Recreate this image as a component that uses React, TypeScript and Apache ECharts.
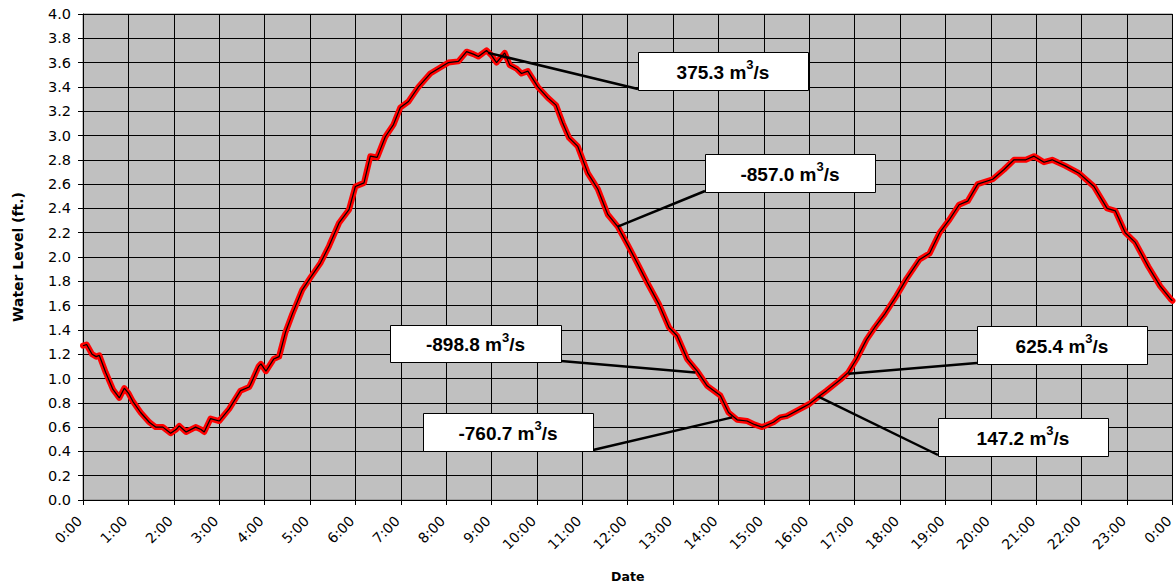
import React, { useEffect, useRef } from 'react';
import * as echarts from 'echarts';

// Time of reading, in hours after midnight
const hours = [
  0.0, 0.08, 0.2, 0.29, 0.36, 0.5, 0.66, 0.8, 0.91, 1.0, 1.1, 1.27, 1.46, 1.6, 1.76, 1.93,
  2.05, 2.12, 2.27, 2.48, 2.6, 2.67, 2.81, 3.0, 3.22, 3.47, 3.66, 3.69, 3.87, 3.92, 4.03,
  4.2, 4.32, 4.46, 4.61, 4.83, 5.01, 5.23, 5.42, 5.64, 5.86, 6.0, 6.19, 6.33, 6.48, 6.66,
  6.84, 6.99, 7.17, 7.39, 7.65, 7.87, 8.05, 8.27, 8.45, 8.6, 8.71, 8.89, 9.0, 9.11, 9.29,
  9.4, 9.55, 9.66, 9.8, 10.02, 10.24, 10.42, 10.57, 10.71, 10.9, 11.12, 11.34, 11.56,
  11.78, 12.0, 12.21, 12.43, 12.69, 12.91, 13.09, 13.31, 13.53, 13.75, 14.04, 14.22,
  14.41, 14.63, 14.8, 14.96, 15.21, 15.36, 15.5, 15.8, 16.0, 16.2, 16.38, 16.68, 16.86,
  17.04, 17.26, 17.44, 17.66, 17.92, 18.14, 18.43, 18.65, 18.87, 19.09, 19.3, 19.49,
  19.71, 20.04, 20.29, 20.51, 20.77, 20.95, 21.17, 21.35, 21.64, 21.94, 22.27, 22.56,
  22.74, 22.96, 23.18, 23.47, 23.73, 23.97, 24.0,
];

// Water level (ft.) at each reading
const levels = [
  1.27, 1.28, 1.2, 1.18, 1.19, 1.05, 0.91, 0.84, 0.92, 0.88, 0.81, 0.72, 0.64, 0.6, 0.6, 0.55,
  0.58, 0.61, 0.56, 0.6, 0.58, 0.56, 0.67, 0.65, 0.75, 0.9, 0.93, 0.95, 1.1, 1.12, 1.06,
  1.16, 1.18, 1.38, 1.53, 1.73, 1.83, 1.95, 2.09, 2.28, 2.39, 2.58, 2.61, 2.83, 2.82, 2.99,
  3.09, 3.23, 3.28, 3.4, 3.51, 3.56, 3.6, 3.61, 3.69, 3.67, 3.65, 3.7, 3.66, 3.6, 3.68,
  3.58, 3.55, 3.51, 3.53, 3.4, 3.31, 3.25, 3.1, 2.98, 2.91, 2.69, 2.56, 2.35,
  2.25, 2.1, 1.95, 1.79, 1.61, 1.42, 1.35, 1.16, 1.06, 0.94, 0.86, 0.72,
  0.66, 0.65, 0.62, 0.6, 0.64, 0.68, 0.69, 0.75, 0.79, 0.85, 0.9, 0.99, 1.05,
  1.16, 1.32, 1.42, 1.53, 1.68, 1.82, 1.98, 2.03, 2.2, 2.31, 2.43, 2.46,
  2.6, 2.64, 2.72, 2.8, 2.8, 2.83, 2.78, 2.8, 2.75, 2.69, 2.58, 2.4,
  2.38, 2.2, 2.12, 1.92, 1.76, 1.65, 1.64,
];

// Discharge callouts: flow value and the reading it refers to
const flowLabels = ['375.3', '-857.0', '-898.8', '-760.7', '625.4', '147.2'];
const flowHours = [8.93, 11.78, 13.49, 14.3, 16.86, 16.2];
const flowLevels = [3.68, 2.25, 1.05, 0.68, 1.04, 0.85];

// Callout box placement in pixels: [left, top, width, height, leader corner]
const boxLayout: [number, number, number, number, 'bl' | 'br'][] = [
  [638, 52, 170, 38, 'bl'],
  [705, 154, 170, 38, 'bl'],
  [390, 325, 171, 37, 'br'],
  [423, 413, 170, 38, 'br'],
  [977, 326, 170, 38, 'bl'],
  [938, 418, 170, 38, 'bl'],
];

const FONT = '"Liberation Sans", Arial, Helvetica, sans-serif';
const TICK_FONT = '"DejaVu Sans", Verdana, sans-serif';

export default function App() {
  const ref = useRef<HTMLDivElement>(null);

  useEffect(() => {
    const chart = echarts.init(ref.current!, null, { renderer: 'svg' });
    const points = hours.map((h, i) => [h, levels[i]]);

    chart.setOption({
      animation: false,
      backgroundColor: '#ffffff',
      textStyle: { fontFamily: FONT },
      grid: {
        left: 83,
        top: 14,
        right: -1.4,
        bottom: 87.3,
        show: true,
        backgroundColor: '#C0C0C0',
        borderColor: '#808080',
        borderWidth: 1,
      },
      xAxis: {
        type: 'value',
        min: 0,
        max: 24,
        interval: 1,
        name: 'Date',
        nameLocation: 'middle',
        nameGap: 70,
        nameTextStyle: { fontFamily: TICK_FONT, fontSize: 12.5, fontWeight: 'bold', color: '#000' },
        axisLine: { show: true, onZero: false, lineStyle: { color: '#000', width: 1 } },
        axisTick: { show: true, length: 5, lineStyle: { color: '#000' } },
        axisLabel: {
          rotate: 45,
          margin: 15,
          padding: [0, 5, 0, 0],
          fontFamily: TICK_FONT,
          fontSize: 14,
          color: '#000',
          showMaxLabel: true,
          formatter: (v: number) => `${Math.round(v) % 24}:00`,
        },
        splitLine: { show: true, lineStyle: { color: '#000', width: 1 } },
      },
      yAxis: {
        type: 'value',
        min: 0,
        max: 4,
        interval: 0.2,
        name: 'Water Level (ft.)',
        nameLocation: 'middle',
        nameGap: 58,
        nameTextStyle: { fontFamily: TICK_FONT, fontSize: 14, fontWeight: 'bold', color: '#000' },
        axisLine: { show: true, lineStyle: { color: '#000', width: 1 } },
        axisTick: { show: true, length: 5, lineStyle: { color: '#000' } },
        axisLabel: {
          margin: 12,
          fontFamily: TICK_FONT,
          fontSize: 14.5,
          color: '#000',
          formatter: (v: number) => v.toFixed(1),
        },
        splitLine: { show: true, lineStyle: { color: '#000', width: 1 } },
      },
      series: [
        {
          type: 'line',
          data: points,
          symbol: 'none',
          lineStyle: { color: '#FF0000', width: 6, join: 'round', cap: 'round' },
          z: 2,
        },
        {
          type: 'line',
          data: points,
          symbol: 'none',
          lineStyle: { color: '#000000', width: 1.2 },
          z: 3,
        },
      ],
    });

    const elements: any[] = [];
    flowLabels.forEach((label, i) => {
      const [bx, by, bw, bh, corner] = boxLayout[i];
      const anchor = chart.convertToPixel({ gridIndex: 0 }, [flowHours[i], flowLevels[i]]) as number[];
      const ex = corner === 'bl' ? bx : bx + bw;
      const ey = by + bh - 1;
      elements.push({
        type: 'line',
        shape: { x1: anchor[0], y1: anchor[1], x2: ex, y2: ey },
        style: { stroke: '#000', lineWidth: 2.5 },
        z: 100,
      });
      elements.push({
        type: 'rect',
        shape: { x: bx + 0.5, y: by + 0.5, width: bw, height: bh },
        style: { fill: '#ffffff', stroke: '#000', lineWidth: 1 },
        z: 101,
      });
      elements.push({
        type: 'text',
        x: bx + bw / 2,
        y: by + bh / 2 + 1,
        z: 102,
        style: {
          text: `{v|${label} m}{s|3}{v|/s}`,
          align: 'center',
          verticalAlign: 'middle',
          rich: {
            v: { fontFamily: FONT, fontSize: 19, fontWeight: 'bold', fill: '#000', lineHeight: 28 },
            s: {
              fontFamily: FONT,
              fontSize: 13,
              fontWeight: 'bold',
              fill: '#000',
              lineHeight: 14,
              verticalAlign: 'top',
            },
          },
        },
      });
    });
    chart.setOption({ graphic: { elements } });

    return () => chart.dispose();
  }, []);

  return (
    <div
      ref={ref}
      style={{ position: 'absolute', left: 0, top: 0, width: 1176, height: 588 }}
    />
  );
}
